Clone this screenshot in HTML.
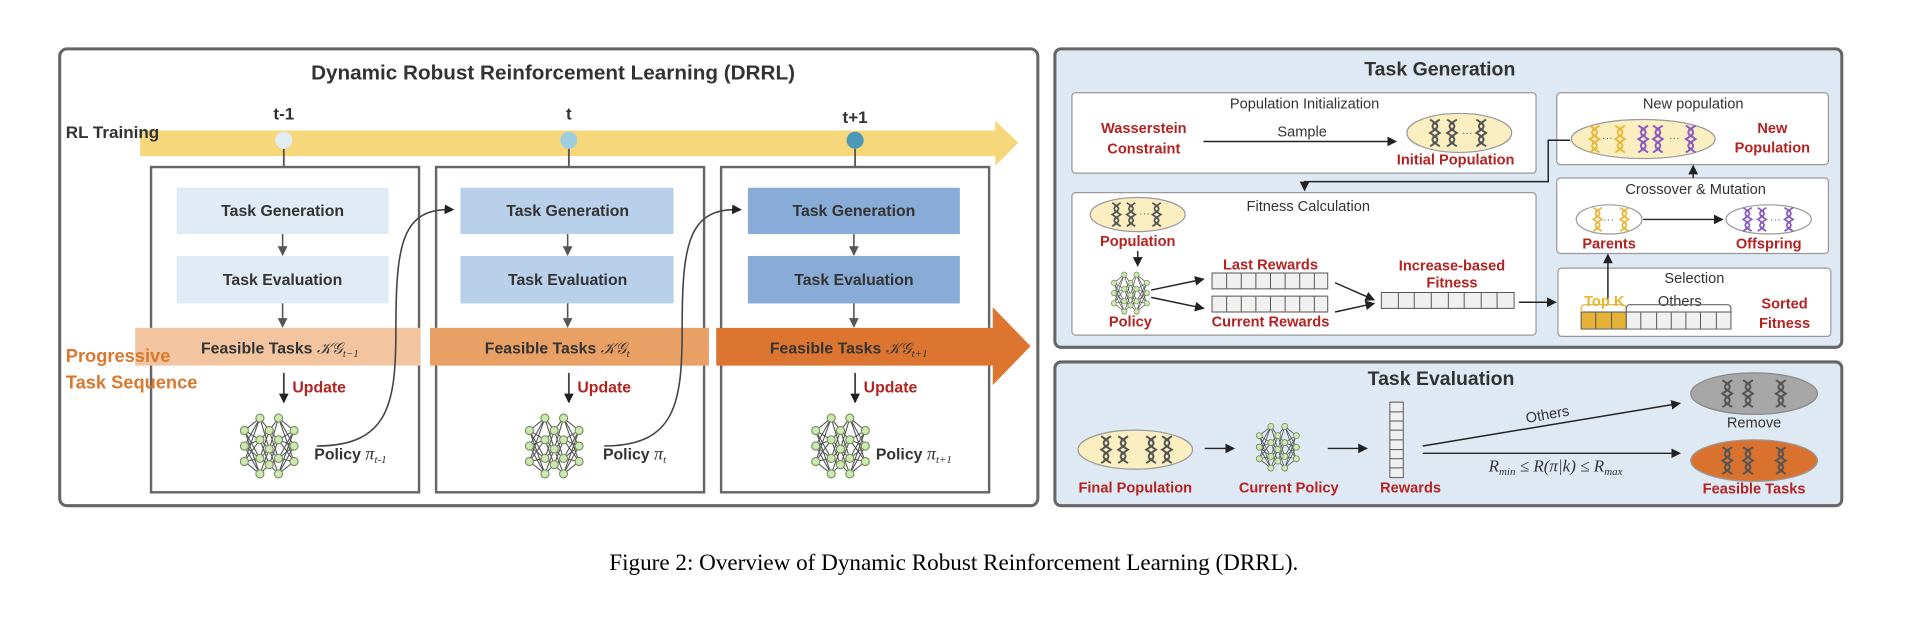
<!DOCTYPE html>
<html><head><meta charset="utf-8"><style>
html,body{margin:0;padding:0;background:#fff;width:1910px;height:624px;overflow:hidden}
svg{display:block}
text{font-family:"Liberation Sans",sans-serif}
.c{text-anchor:middle}
.r{fill:#b42222;font-weight:bold}
.d{fill:#333}
.m{font-family:"Liberation Serif",serif;font-style:italic;font-weight:normal}
</style></head><body>
<svg width="1910" height="624" viewBox="0 0 1568 512" xmlns="http://www.w3.org/2000/svg">
<defs>
<marker id="a" markerWidth="8" markerHeight="8" refX="7" refY="4" orient="auto" markerUnits="userSpaceOnUse"><path d="M0,0 L8,4 L0,8 z" fill="#222"/></marker>
<marker id="ag" markerWidth="8" markerHeight="8" refX="7" refY="4" orient="auto" markerUnits="userSpaceOnUse"><path d="M0,0 L8,4 L0,8 z" fill="#555"/></marker>
<symbol id="dna" viewBox="0 0 8 22" overflow="visible"><path d="M0,0 C8,5 8,6 0,11 C8,16 8,17 0,22 M8,0 C0,5 0,6 8,11 C0,16 0,17 8,22" fill="none" stroke="currentColor" stroke-width="1.6"/><path d="M2,3h4M2,8h4M2,14h4M2,19h4" stroke="currentColor" stroke-width="0.8"/></symbol>
<symbol id="net" viewBox="0 0 40 44" overflow="visible">
<g stroke="#555" stroke-width="0.7">
<path d="M4,12L14,4M4,12L14,18M4,12L14,30M4,22L14,4M4,22L14,18M4,22L14,30M4,22L14,40M4,32L14,18M4,32L14,30M4,32L14,40M4,12L14,40M4,32L14,4"/>
<path d="M26,4L36,12M26,4L36,22M26,4L36,32M26,18L36,12M26,18L36,22M26,18L36,32M26,30L36,12M26,30L36,22M26,30L36,32M26,40L36,12M26,40L36,22M26,40L36,32"/>
<path d="M14,4L20,12M14,4L20,24M14,18L20,12M14,18L20,24M14,18L20,34M14,30L20,12M14,30L20,24M14,30L20,34M14,40L20,24M14,40L20,34M20,12L26,4M20,12L26,18M20,12L26,30M20,24L26,4M20,24L26,18M20,24L26,30M20,24L26,40M20,34L26,18M20,34L26,30M20,34L26,40"/>
</g>
<g fill="#cfe6b5" stroke="#6f8f55" stroke-width="0.7">
<circle cx="4" cy="12" r="2.6"/><circle cx="4" cy="22" r="2.6"/><circle cx="4" cy="32" r="2.6"/>
<circle cx="14" cy="4" r="2.6"/><circle cx="14" cy="18" r="2.6"/><circle cx="14" cy="30" r="2.6"/><circle cx="14" cy="40" r="2.6"/>
<circle cx="20" cy="12" r="2.6"/><circle cx="20" cy="24" r="2.6"/><circle cx="20" cy="34" r="2.6"/>
<circle cx="26" cy="4" r="2.6"/><circle cx="26" cy="18" r="2.6"/><circle cx="26" cy="30" r="2.6"/><circle cx="26" cy="40" r="2.6"/>
<circle cx="36" cy="12" r="2.6"/><circle cx="36" cy="22" r="2.6"/><circle cx="36" cy="32" r="2.6"/>
</g></symbol>
</defs>

<!-- LEFT PANEL -->
<rect x="49" y="40" width="803" height="375" rx="6" fill="#fff" stroke="#666" stroke-width="2.5"/>
<text x="454" y="65" class="c d" font-size="17" font-weight="bold">Dynamic Robust Reinforcement Learning (DRRL)</text>
<text x="233" y="98" class="c d" font-size="14" font-weight="bold">t-1</text>
<text x="467" y="98" class="c d" font-size="14" font-weight="bold">t</text>
<text x="702" y="101" class="c d" font-size="14" font-weight="bold">t+1</text>
<path d="M115,107 H817 V99 L836,117 L817,136 V128 H115 Z" fill="#f7d77c"/>
<text x="54" y="113" class="d" font-size="14" font-weight="bold">RL Training</text>
<g stroke="#555" stroke-width="1.5"><path d="M233,122V137M467,122V137M702,122V137"/></g>
<circle cx="233" cy="115" r="7" fill="#e2ecf3"/>
<circle cx="467" cy="115" r="7" fill="#9fcde0"/>
<circle cx="702" cy="115" r="7" fill="#4b99b9"/>

<g fill="none" stroke="#666" stroke-width="2">
<rect x="124" y="137" width="220" height="267"/>
<rect x="358" y="137" width="220" height="267"/>
<rect x="592" y="137" width="220" height="267"/>
</g>
<rect x="145" y="154" width="174" height="38" fill="#e0ebf6"/>
<rect x="145" y="210" width="174" height="39" fill="#e0ebf6"/>
<rect x="378" y="154" width="175" height="38" fill="#b8d0ea"/>
<rect x="378" y="210" width="175" height="39" fill="#b8d0ea"/>
<rect x="614" y="154" width="174" height="38" fill="#88acd7"/>
<rect x="614" y="210" width="174" height="39" fill="#88acd7"/>
<g font-size="13" class="c d" font-weight="bold" fill="#333">
<text x="232" y="177">Task Generation</text><text x="232" y="234">Task Evaluation</text>
<text x="466" y="177">Task Generation</text><text x="466" y="234">Task Evaluation</text>
<text x="701" y="177">Task Generation</text><text x="701" y="234">Task Evaluation</text>
</g>
<g stroke="#555" stroke-width="1.3" marker-end="url(#ag)">
<path d="M232,192V209"/><path d="M232,249V268"/>
<path d="M466,192V209"/><path d="M466,249V268"/>
<path d="M701,192V209"/><path d="M701,249V268"/>
</g>
<rect x="111" y="269" width="234" height="31" fill="#f2c5a0"/>
<rect x="353" y="269" width="229" height="31" fill="#e9a065"/>
<path d="M588,269 H815 V252 L846,284 L815,316 V300 H588 Z" fill="#dc752f"/>
<g font-size="13" font-weight="bold" fill="#333">
<text x="165" y="290">Feasible Tasks <tspan class="m">𝒦𝒢<tspan font-size="9" dy="3">t−1</tspan></tspan></text>
<text x="398" y="290">Feasible Tasks <tspan class="m">𝒦𝒢<tspan font-size="9" dy="3">t</tspan></tspan></text>
<text x="632" y="290">Feasible Tasks <tspan class="m">𝒦𝒢<tspan font-size="9" dy="3">t+1</tspan></tspan></text>
</g>
<text x="54" y="297" font-size="15" font-weight="bold" fill="#d9782e">Progressive</text>
<text x="54" y="319" font-size="15" font-weight="bold" fill="#d9782e">Task  Sequence</text>
<g stroke="#444" stroke-width="1.5" marker-end="url(#a)">
<path d="M233,306V330"/><path d="M467,306V330"/><path d="M702,306V330"/>
</g>
<g font-size="13" class="r"><text x="240" y="322">Update</text><text x="474" y="322">Update</text><text x="709" y="322">Update</text></g>
<use href="#net" x="195" y="338" width="52" height="56"/>
<use href="#net" x="429" y="338" width="52" height="56"/>
<use href="#net" x="664" y="338" width="52" height="56"/>
<g font-size="13" font-weight="bold" fill="#333">
<text x="258" y="377">Policy <tspan class="m" font-size="15">π<tspan font-size="9" dy="3">t-1</tspan></tspan></text>
<text x="495" y="377">Policy <tspan class="m" font-size="15">π<tspan font-size="9" dy="3">t</tspan></tspan></text>
<text x="719" y="377">Policy <tspan class="m" font-size="15">π<tspan font-size="9" dy="3">t+1</tspan></tspan></text>
</g>
<g fill="none" stroke="#444" stroke-width="1.3" marker-end="url(#a)">
<path d="M260,366 C320,366 325,330 325,270 C325,200 330,170 372,172"/>
<path d="M496,366 C555,366 560,330 560,270 C560,200 565,170 608,172"/>
</g>

<!-- RIGHT TOP PANEL -->
<rect x="866" y="40" width="646" height="245" rx="5" fill="#dfe9f4" stroke="#666" stroke-width="2.5"/>
<text x="1182" y="62" class="c d" font-size="16" font-weight="bold">Task Generation</text>
<g fill="#fff" stroke="#999" stroke-width="1">
<rect x="880" y="76" width="381" height="66" rx="3"/>
<rect x="1278" y="76" width="223" height="59" rx="3"/>
<rect x="1278" y="146" width="223" height="62" rx="3"/>
<rect x="1279" y="220" width="224" height="56" rx="3"/>
<rect x="880" y="158" width="381" height="117" rx="3"/>
</g>
<g font-size="12" class="c" fill="#333">
<text x="1071" y="89">Population Initialization</text>
<text x="1390" y="89">New population</text>
<text x="1392" y="159">Crossover &amp; Mutation</text>
<text x="1391" y="232">Selection</text>
<text x="1074" y="173">Fitness Calculation</text>
<text x="1069" y="112">Sample</text>
<text x="1379" y="251">Others</text>
</g>
<g font-size="12" class="c r">
<text x="939" y="109">Wasserstein</text><text x="939" y="126">Constraint</text>
<text x="1195" y="135">Initial Population</text>
<text x="1455" y="109">New</text><text x="1455" y="125">Population</text>
<text x="1321" y="204">Parents</text><text x="1452" y="204">Offspring</text>
<text x="1465" y="253">Sorted</text><text x="1465" y="269">Fitness</text>
<text x="934" y="202">Population</text><text x="928" y="268">Policy</text>
<text x="1043" y="221">Last Rewards</text><text x="1043" y="268">Current Rewards</text>
<text x="1192" y="222">Increase-based</text><text x="1192" y="236">Fitness</text>
</g>
<text x="1317" y="251" class="c" font-size="12" font-weight="bold" fill="#eab52d">Top K</text>
<g stroke="#222" stroke-width="1.2" marker-end="url(#a)" fill="none">
<path d="M988,116H1146"/>
<path d="M1289,115H1271V149H1071V156"/>
<path d="M1349,180H1414"/>
<path d="M1390,146V136"/>
<path d="M1320,245V209"/>
<path d="M1247,248H1277"/>
<path d="M934,206V218"/>
<path d="M945,238L988,229"/><path d="M945,244L988,253"/>
<path d="M1096,232L1128,246"/><path d="M1096,256L1128,249"/>
</g>
<g stroke="#999" stroke-width="1">
<ellipse cx="1198" cy="109" rx="43" ry="16" fill="#fbefc2"/>
<ellipse cx="1349" cy="114" rx="59" ry="16" fill="#fbefc2"/>
<ellipse cx="1321" cy="180" rx="27" ry="12" fill="#fff"/>
<ellipse cx="1452" cy="180" rx="35" ry="12" fill="#fff"/>
<ellipse cx="934" cy="176" rx="39" ry="14" fill="#fbefc2"/>
</g>
<g color="#555"><use href="#dna" x="1174" y="98" width="8" height="22"/><use href="#dna" x="1188" y="98" width="8" height="22"/><use href="#dna" x="1212" y="98" width="8" height="22"/>
<use href="#dna" x="913" y="166" width="7" height="20"/><use href="#dna" x="925" y="166" width="7" height="20"/><use href="#dna" x="946" y="166" width="7" height="20"/></g>
<g color="#e8b83a"><use href="#dna" x="1305" y="103" width="8" height="22"/><use href="#dna" x="1326" y="103" width="8" height="22"/><use href="#dna" x="1308" y="170" width="7" height="20"/><use href="#dna" x="1330" y="170" width="7" height="20"/></g>
<g color="#8a5bc0"><use href="#dna" x="1345" y="103" width="8" height="22"/><use href="#dna" x="1357" y="103" width="8" height="22"/><use href="#dna" x="1384" y="103" width="8" height="22"/>
<use href="#dna" x="1431" y="170" width="7" height="20"/><use href="#dna" x="1443" y="170" width="7" height="20"/><use href="#dna" x="1465" y="170" width="7" height="20"/></g>
<g font-size="9" fill="#666"><text x="1200" y="112">···</text><text x="935" y="178">···</text><text x="1315" y="116">···</text><text x="1370" y="116">···</text><text x="1316" y="183">···</text><text x="1453" y="183">···</text></g>
<use href="#net" x="911" y="222" width="34" height="37"/>
<!-- bars -->
<g fill="#f0f0f0" stroke="#555" stroke-width="0.8">
<path d="M995,224h95v13h-95z M1007,224v13M1019,224v13M1031,224v13M1043,224v13M1055,224v13M1067,224v13M1079,224v13"/>
<path d="M995,243h95v13h-95z M1007,243v13M1019,243v13M1031,243v13M1043,243v13M1055,243v13M1067,243v13M1079,243v13"/>
<path d="M1134,240h109v13h-109z M1148,240v13M1161,240v13M1175,240v13M1189,240v13M1202,240v13M1216,240v13M1229,240v13"/>
<path d="M1335,256h86v14h-86z M1347,256v14M1360,256v14M1372,256v14M1384,256v14M1396,256v14M1409,256v14"/>
</g>
<g fill="#e3b236" stroke="#555" stroke-width="0.8"><path d="M1298,256h37v14h-37z M1310,256v14M1323,256v14"/></g>
<path d="M1298,256v-3a3,3 0 0 1 3,-3h31a3,3 0 0 1 3,3v3" fill="none" stroke="#e3b236"/>
<path d="M1335,256v-3a3,3 0 0 1 3,-3h80a3,3 0 0 1 3,3v3" fill="none" stroke="#666"/>

<!-- RIGHT BOTTOM PANEL -->
<rect x="866" y="297" width="646" height="118" rx="5" fill="#dfe9f4" stroke="#666" stroke-width="2.5"/>
<text x="1183" y="316" class="c d" font-size="16" font-weight="bold">Task Evaluation</text>
<ellipse cx="932" cy="369" rx="47" ry="16" fill="#fbefc2" stroke="#999"/>
<ellipse cx="1440" cy="323" rx="52" ry="17" fill="#a6a6a6" stroke="#888"/>
<ellipse cx="1440" cy="378" rx="52" ry="17" fill="#d9722f" stroke="#999"/>
<g color="#555"><use href="#dna" x="904" y="358" width="8" height="22"/><use href="#dna" x="918" y="358" width="8" height="22"/><use href="#dna" x="941" y="358" width="8" height="22"/><use href="#dna" x="954" y="358" width="8" height="22"/>
<use href="#dna" x="1414" y="312" width="8" height="22"/><use href="#dna" x="1431" y="312" width="8" height="22"/><use href="#dna" x="1458" y="312" width="8" height="22"/>
<use href="#dna" x="1414" y="367" width="8" height="22"/><use href="#dna" x="1431" y="367" width="8" height="22"/><use href="#dna" x="1458" y="367" width="8" height="22"/></g>
<use href="#net" x="1030" y="345" width="38" height="44"/>
<g fill="#f0f0f0" stroke="#555" stroke-width="0.8"><path d="M1141,330h11v62h-11z M1141,338h11M1141,345.5h11M1141,353h11M1141,361h11M1141,369h11M1141,376.5h11M1141,384h11"/></g>
<g stroke="#222" stroke-width="1.2" marker-end="url(#a)" fill="none">
<path d="M989,368H1013"/><path d="M1090,368H1122"/>
<path d="M1168,366L1379,331"/><path d="M1168,372H1379"/>
</g>
<text x="1271" y="344" class="c" font-size="12" fill="#333" transform="rotate(-10 1271 344)">Others</text>
<text x="1277" y="387" class="c m" font-size="14" fill="#333">R<tspan font-size="9" dy="3">min</tspan><tspan dy="-3"> ≤ R(π|k) ≤ R</tspan><tspan font-size="9" dy="3">max</tspan></text>
<text x="1440" y="351" class="c" font-size="12" fill="#333">Remove</text>
<g font-size="12" class="c r"><text x="932" y="404">Final Population</text><text x="1058" y="404">Current Policy</text><text x="1158" y="404">Rewards</text><text x="1440" y="405">Feasible Tasks</text></g>

<text x="783" y="468" class="c" style="font-family:'Liberation Serif',serif" font-size="19" fill="#000">Figure 2: Overview of Dynamic Robust Reinforcement Learning (DRRL).</text>
</svg>
</body></html>
